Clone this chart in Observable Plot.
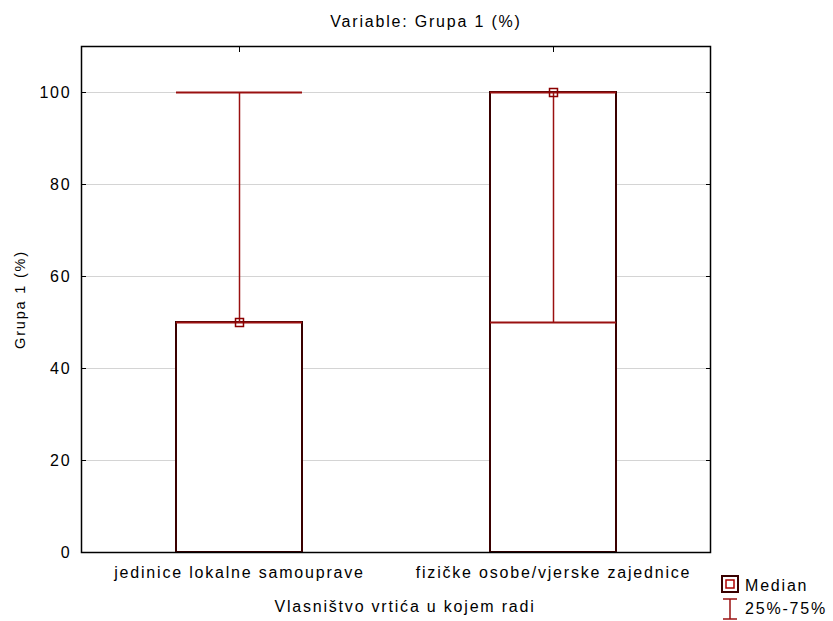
<!DOCTYPE html>
<html><head><meta charset="utf-8">
<script src="https://cdn.jsdelivr.net/npm/d3@7"></script>
<script src="https://cdn.jsdelivr.net/npm/@observablehq/plot@0.6"></script>
<style>
body{margin:0;background:#fff;font-family:"Liberation Sans",Arial,sans-serif;}
#wrap{position:relative;width:833px;height:621px;}
.leg{position:absolute;font-size:16px;letter-spacing:1.8px;color:#000;white-space:nowrap;line-height:16px;}
.ico{position:absolute;}
</style></head><body><div id="wrap"></div>
<script>
const categories = ["jedinice lokalne samouprave", "fizičke osobe/vjerske zajednice"];
const boxLow = [0, 0];
const boxHigh = [50, 100];
const median = [50, 100];
const whiskerLow = [50, 50];
const whiskerHigh = [100, 100];
const yTicks = [0, 20, 40, 60, 80, 100];
const chartTitle = "Variable: Grupa 1 (%)";
const xTitle = "Vlasništvo vrtića u kojem radi";
const yTitle = "Grupa 1 (%)";
const legendLabels = ["Median", "25%-75%"];

const rows = categories.map((c, i) => ({
  category: c, boxLow: boxLow[i], boxHigh: boxHigh[i], median: median[i],
  whiskerLow: whiskerLow[i], whiskerHigh: whiskerHigh[i]
}));

const boxStroke = "#3a0000";
const whiskerColor = "#9a1010";

const chart = Plot.plot({
  width: 833, height: 621,
  marginLeft: 81, marginRight: 123, marginTop: 46, marginBottom: 69,
  style: {fontFamily: "Liberation Sans, Arial, sans-serif", fontSize: "16px", letterSpacing: "1.8px", color: "#000", background: "#fff"},
  x: {type: "band", domain: categories, paddingInner: 0.6, paddingOuter: 0.3},
  y: {domain: [0, 110]},
  marks: [
    Plot.gridY(yTicks, {stroke: "#d4d4d4", strokeOpacity: 1}),
    Plot.axisY({anchor: "left", ticks: yTicks, tickSize: 0, tickPadding: 10, label: null}),
    Plot.axisY({anchor: "left", ticks: yTicks, tickSize: -5, tickFormat: () => "", label: null}),
    Plot.axisY({anchor: "right", ticks: yTicks, tickSize: -5, tickFormat: () => "", label: null}),
    Plot.axisX({anchor: "bottom", tickSize: 0, tickPadding: 14, label: null}),
    Plot.axisX({anchor: "bottom", tickSize: -5, tickFormat: () => "", label: null}),
    Plot.axisX({anchor: "top", tickSize: -5, tickFormat: () => "", label: null}),
    Plot.barY(rows, {x: "category", y1: "boxLow", y2: "boxHigh", fill: "white", stroke: boxStroke, strokeWidth: 2}),
    Plot.ruleX(rows, {x: "category", y1: "whiskerLow", y2: "whiskerHigh", stroke: whiskerColor, strokeWidth: 1.5}),
    Plot.tickY(rows, {x: "category", y: "whiskerLow", stroke: whiskerColor, strokeWidth: 2}),
    Plot.tickY(rows, {x: "category", y: "whiskerHigh", stroke: whiskerColor, strokeWidth: 2}),
    Plot.dot(rows, {x: "category", y: "median", symbol: "square", r: 4.5, stroke: "#8b0000", strokeWidth: 1.5, fill: "none"}),
    Plot.frame({stroke: "#000", strokeWidth: 1.5}),
    Plot.text([chartTitle], {text: d => d, frameAnchor: "top", dy: -31, dx: 30, fontSize: 16, style: "letter-spacing:1.5px"}),
    Plot.text([xTitle], {text: d => d, frameAnchor: "bottom", dy: 59, dx: 9, fontSize: 16}),
    Plot.text([yTitle], {text: d => d, frameAnchor: "left", textAnchor: "middle", dx: -61, rotate: -90, fontSize: 14.5})
  ]
});
const wrap = document.getElementById("wrap");
wrap.appendChild(chart);

// legend
const leg = document.createElement("div");
leg.innerHTML = `
<svg class="ico" style="left:721px;top:575px" width="18" height="18"><rect x="1" y="1" width="16" height="16" fill="none" stroke="${boxStroke}" stroke-width="2"/><rect x="5" y="5" width="8" height="8" fill="none" stroke="#b00000" stroke-width="1.5"/></svg>
<div class="leg" style="left:745px;top:578px">${legendLabels[0]}</div>
<svg class="ico" style="left:721px;top:598px" width="18" height="23"><line x1="2" y1="1" x2="16" y2="1" stroke="${whiskerColor}" stroke-width="1.5"/><line x1="9" y1="1" x2="9" y2="21" stroke="${whiskerColor}" stroke-width="1.5"/><line x1="2" y1="21" x2="16" y2="21" stroke="${whiskerColor}" stroke-width="1.5"/></svg>
<div class="leg" style="left:745px;top:601px">${legendLabels[1]}</div>`;
wrap.appendChild(leg);
</script></body></html>
